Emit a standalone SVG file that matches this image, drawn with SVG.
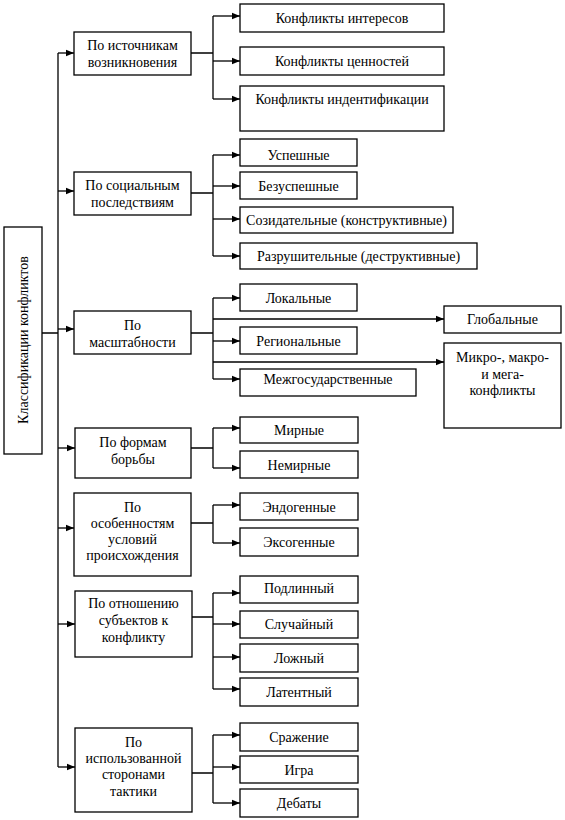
<svg xmlns="http://www.w3.org/2000/svg" width="565" height="820" viewBox="0 0 565 820">
<style>
.b{fill:#fff;stroke:#000;stroke-width:1.3}
text{font-family:'Liberation Serif','DejaVu Serif','Times New Roman',serif;font-size:14px;fill:#000;text-anchor:middle}
.c{fill:none;stroke:#000;stroke-width:1.3}
.a{fill:none;stroke:#000;stroke-width:1.3;marker-end:url(#ah)}
</style>
<defs>
<marker id="ah" markerUnits="userSpaceOnUse" markerWidth="8" markerHeight="8" refX="8" refY="4" orient="auto">
<path d="M0,0.8 L8,4 L0,7.2 Z" fill="#000"/>
</marker>
</defs>
<rect width="565" height="820" fill="#fff"/>
<g id="connectors">
<path class="c" d="M42,333 H58 M58,53 V767"/>
<path class="a" d="M58,53 H74"/>
<path class="a" d="M58,191 H74"/>
<path class="a" d="M58,329 H74"/>
<path class="a" d="M58,448 H75"/>
<path class="a" d="M58,528 H74"/>
<path class="a" d="M58,624 H75"/>
<path class="a" d="M58,767 H75"/>
<path class="c" d="M191,53 H213 M213,16 V99"/>
<path class="a" d="M213,16 H240"/>
<path class="a" d="M213,61 H240"/>
<path class="a" d="M213,99 H240"/>
<path class="c" d="M191,193 H213 M213,155 V256"/>
<path class="a" d="M213,155 H240"/>
<path class="a" d="M213,186 H240"/>
<path class="a" d="M213,219 H240"/>
<path class="a" d="M213,256 H240"/>
<path class="c" d="M191,333 H213 M213,298 V379"/>
<path class="a" d="M213,298 H240"/>
<path class="a" d="M213,319 H444"/>
<path class="a" d="M213,341 H240"/>
<path class="a" d="M213,362 H444"/>
<path class="a" d="M213,379 H240"/>
<path class="c" d="M191,448 H213 M213,428 V468"/>
<path class="a" d="M213,428 H240"/>
<path class="a" d="M213,468 H240"/>
<path class="c" d="M191,523 H213 M213,505 V543"/>
<path class="a" d="M213,505 H240"/>
<path class="a" d="M213,543 H240"/>
<path class="c" d="M192,617 H213 M213,593 V689"/>
<path class="a" d="M213,593 H240"/>
<path class="a" d="M213,624 H240"/>
<path class="a" d="M213,657 H240"/>
<path class="a" d="M213,689 H240"/>
<path class="c" d="M192,773 H213 M213,735 V803"/>
<path class="a" d="M213,735 H240"/>
<path class="a" d="M213,767 H240"/>
<path class="a" d="M213,803 H240"/>
</g>
<g font-family="Liberation Serif, serif">
<g id="root"><rect class="b" x="4" y="227" width="38" height="227"/><text transform="translate(28,340) rotate(-90)">Классификации конфликтов</text></g>
<g id="cat1"><rect class="b" x="74" y="32" width="117" height="43"/><text x="132.5" y="50">По источникам</text><text x="132.5" y="67">возникновения</text></g>
<g id="cat2"><rect class="b" x="74" y="172" width="117" height="43"/><text x="132.5" y="190">По социальным</text><text x="132.5" y="207">последствиям</text></g>
<g id="cat3"><rect class="b" x="74" y="311" width="117" height="43"/><text x="132.5" y="330">По</text><text x="132.5" y="347">масштабности</text></g>
<g id="cat4"><rect class="b" x="75" y="428" width="116" height="50"/><text x="133" y="447">По формам</text><text x="133" y="464">борьбы</text></g>
<g id="cat5"><rect class="b" x="74" y="493" width="117" height="83"/><text x="132.5" y="512">По</text><text x="132.5" y="528">особенностям</text><text x="132.5" y="544">условий</text><text x="132.5" y="560">происхождения</text></g>
<g id="cat6"><rect class="b" x="75" y="591" width="117" height="66"/><text x="133.5" y="608">По отношению</text><text x="133.5" y="625">субъектов к</text><text x="133.5" y="642">конфликту</text></g>
<g id="cat7"><rect class="b" x="75" y="728" width="117" height="84"/><text x="133.5" y="747">По</text><text x="133.5" y="763">использованной</text><text x="133.5" y="779">сторонами</text><text x="133.5" y="796">тактики</text></g>
<g id="n1"><rect class="b" x="240" y="4" width="204" height="28"/><text x="342" y="23">Конфликты интересов</text></g>
<g id="n2"><rect class="b" x="240" y="47" width="204" height="28"/><text x="342" y="66">Конфликты ценностей</text></g>
<g id="n3"><rect class="b" x="240" y="86" width="204" height="45"/><text x="342" y="104">Конфликты индентификации</text></g>
<g id="n4"><rect class="b" x="240" y="139" width="117" height="27"/><text x="298.5" y="160">Успешные</text></g>
<g id="n5"><rect class="b" x="240" y="172" width="117" height="27"/><text x="298.5" y="191">Безуспешные</text></g>
<g id="n6"><rect class="b" x="240" y="207" width="213" height="26"/><text x="346.5" y="225">Созидательные (конструктивные)</text></g>
<g id="n7"><rect class="b" x="240" y="243" width="237" height="26"/><text x="358.5" y="261">Разрушительные (деструктивные)</text></g>
<g id="n8"><rect class="b" x="240" y="284" width="117" height="27"/><text x="298.5" y="303">Локальные</text></g>
<g id="n9"><rect class="b" x="444" y="306" width="117" height="27"/><text x="502.5" y="324">Глобальные</text></g>
<g id="n10"><rect class="b" x="240" y="327" width="117" height="27"/><text x="298.5" y="346">Региональные</text></g>
<g id="n11"><rect class="b" x="444" y="343" width="117" height="85"/><text x="502.5" y="362">Микро-, макро-</text><text x="502.5" y="379">и мега-</text><text x="502.5" y="395">конфликты</text></g>
<g id="n12"><rect class="b" x="240" y="369" width="176" height="27"/><text x="328" y="384">Межгосударственные</text></g>
<g id="n13"><rect class="b" x="240" y="417" width="118" height="26"/><text x="299" y="435">Мирные</text></g>
<g id="n14"><rect class="b" x="240" y="451" width="118" height="27"/><text x="299" y="470">Немирные</text></g>
<g id="n15"><rect class="b" x="240" y="493" width="118" height="27"/><text x="299" y="512">Эндогенные</text></g>
<g id="n16"><rect class="b" x="240" y="528" width="118" height="28"/><text x="299" y="547">Эксогенные</text></g>
<g id="n17"><rect class="b" x="240" y="576" width="118" height="27"/><text x="299" y="593">Подлинный</text></g>
<g id="n18"><rect class="b" x="240" y="611" width="118" height="27"/><text x="299" y="629">Случайный</text></g>
<g id="n19"><rect class="b" x="240" y="644" width="118" height="28"/><text x="299" y="663">Ложный</text></g>
<g id="n20"><rect class="b" x="240" y="678" width="118" height="28"/><text x="299" y="697">Латентный</text></g>
<g id="n21"><rect class="b" x="240" y="723" width="118" height="28"/><text x="299" y="742">Сражение</text></g>
<g id="n22"><rect class="b" x="240" y="756" width="118" height="27"/><text x="299" y="775">Игра</text></g>
<g id="n23"><rect class="b" x="240" y="789" width="118" height="28"/><text x="299" y="808">Дебаты</text></g>
</g>
</svg>
